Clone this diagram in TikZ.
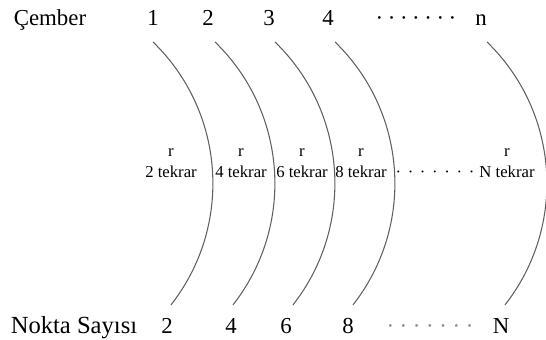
\documentclass[tikz,border=0pt]{standalone}
\usepackage{fontspec}
\setmainfont{Liberation Serif}

\definecolor{cgri}{RGB}{95, 95, 95}
\definecolor{cnok}{RGB}{140, 140, 140}

% yedi noktalı satır
\newcommand{\nokta}[1]{·\hspace{#1}·\hspace{#1}·\hspace{#1}·\hspace{#1}·\hspace{#1}·\hspace{#1}·}

\begin{document}
\begin{tikzpicture}[x=0.02cm, y=0.02cm,
		etiket/.style={font=\fontsize{13}{15}\selectfont, inner sep=0pt, anchor=base},
		kucuk/.style={font=\fontsize{9.5}{11}\selectfont, inner sep=0pt, anchor=base},
		yay/.style={cgri, line width=0.6pt}]

			\useasboundingbox (0,0) rectangle (546,340);

			% --- Cember row ---
			\node[etiket] (cember) at (50,314) {Çember};
			\foreach \i/\x in {1/153,2/208,3/269,4/328} {
					\node[etiket] (c\i) at (\x,314) {\i};
				}
			\node[etiket] (cdots) at (416,314) {\nokta{2.6pt}};
			\node[etiket] (cn) at (481,314) {n};

			% --- Arcs ---
			\foreach \x in {153,215,275,335,487} {
					\draw[yay] (\x,298) arc[start angle=45.9, end angle=-38.1, radius=3.94cm];
				}

			% --- Middle labels ---
			\foreach \k/\x in {2/171,4/241,6/302,8/361} {
					\node[kucuk] (r\k) at (\x,183) {r};
					\node[kucuk] (t\k) at (\x,162) {\k\ tekrar};
				}
			\node[kucuk] (tdots) at (435,162) {\nokta{3.8pt}};
			\node[kucuk] (rN) at (507,183) {r};
			\node[kucuk] (tN) at (507,162) {N tekrar};

			% --- Nokta Sayisi row ---
			\node[etiket, font=\fontsize{14}{16}\selectfont] (nokta) at (74,6) {Nokta Sayısı};
			\foreach \k/\x in {2/167,4/231,6/286,8/348} {
					\node[etiket] (n\k) at (\x,6) {\k};
				}
			\node[etiket, cnok] (ndots) at (430,6) {\nokta{3.2pt}};
			\node[etiket] (nN) at (501,6) {N};

		\end{tikzpicture}
\end{document}
